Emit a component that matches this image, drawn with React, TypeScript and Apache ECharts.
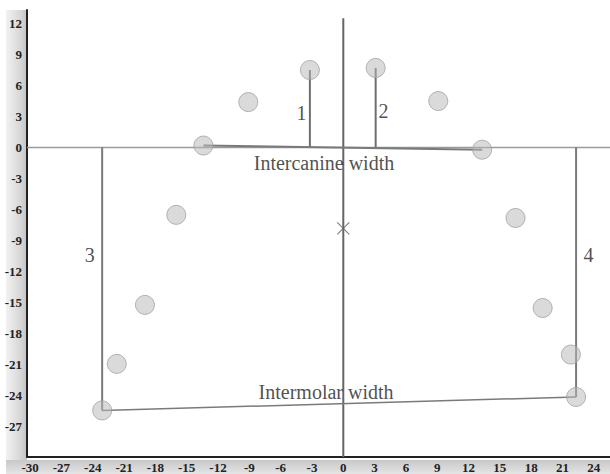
import React, { useEffect, useRef } from "react";
import * as echarts from "echarts";

// Axis ranges and tick labels
const xRange = [-30.3, 25.55];
const yRange = [-29.9, 13.3];
const xTicks = [-30, -27, -24, -21, -18, -15, -12, -9, -6, -3, 0, 3, 6, 9, 12, 15, 18, 21, 24];
const yTicks = [-27, -24, -21, -18, -15, -12, -9, -6, -3, 0, 3, 6, 9, 12];

// Tooth cusp points (x, y)
const teethX = [-23.1, -21.7, -19.0, -16.0, -13.4, -9.1, -3.2, 3.1, 9.1, 13.3, 16.5, 19.1, 21.8, 22.3];
const teethY = [-25.4, -20.9, -15.2, -6.5, 0.2, 4.4, 7.5, 7.7, 4.5, -0.2, -6.8, -15.5, -20.0, -24.1];

// Reference lines
const zeroHorizontal = [[-30.3, 0], [25.55, 0]];
const zeroVertical = [[0, 12.5], [0, -29.9]];

// Measurement segments
const segment1 = [[-3.2, 0], [-3.2, 7.5]];
const segment2 = [[3.1, 0], [3.1, 7.7]];
const segment3 = [[-23.1, 0], [-23.1, -25.4]];
const segment4 = [[22.3, 0], [22.3, -24.1]];
const intercanine = [[-13.4, 0.2], [13.3, -0.2]];
const intermolar = [[-23.1, -25.4], [22.3, -24.1]];

// Centre cross
const centrePoint = [[0, -7.8]];

// Text labels [text, x, y]
const textLabels: [string, number, number][] = [
  ["1", -4.0, 3.35],
  ["2", 3.85, 3.5],
  ["3", -24.3, -10.4],
  ["4", 23.5, -10.4],
  ["Intercanine width", -1.85, -1.45],
  ["Intermolar width", -1.65, -23.65],
];

export default function App() {
  const ref = useRef<HTMLDivElement>(null);
  useEffect(() => {
    if (!ref.current) return;
    const chart = echarts.init(ref.current, null, { renderer: "svg" });
    const seg = (data: number[][], color: string, width: number, z = 2) => ({
      type: "line",
      data,
      symbol: "none",
      silent: true,
      z,
      lineStyle: { color, width },
    });
    const tickLabel = (values: number[], margin: number) => ({
      customValues: values,
      margin,
      fontFamily: "Liberation Serif",
      fontWeight: "bold",
      fontSize: 13,
      color: "#222",
    });
    chart.setOption({
      animation: false,
      backgroundColor: "#ffffff",
      grid: { left: 27, right: 0, top: 10, bottom: 14 },
      graphic: [
        {
          type: "rect",
          z: -10,
          shape: { x: 6, y: 10, width: 21, height: 464 },
          style: {
            fill: new echarts.graphic.LinearGradient(0, 0, 1, 0, [
              { offset: 0, color: "#f2f2f2" },
              { offset: 0.7, color: "#d6d6d6" },
              { offset: 1, color: "#c4c4c4" },
            ]),
          },
        },
        {
          type: "rect",
          z: -10,
          shape: { x: 6, y: 460, width: 604, height: 14 },
          style: {
            fill: new echarts.graphic.LinearGradient(0, 0, 0, 1, [
              { offset: 0, color: "#c8c8c8" },
              { offset: 1, color: "#e4e4e4" },
            ]),
          },
        },
      ],
      xAxis: {
        type: "value",
        min: xRange[0],
        max: xRange[1],
        axisLine: { onZero: false, lineStyle: { color: "#222", width: 2 } },
        axisTick: { show: false },
        splitLine: { show: false },
        axisLabel: tickLabel(xTicks, 4),
      },
      yAxis: {
        type: "value",
        min: yRange[0],
        max: yRange[1],
        axisLine: { onZero: false, lineStyle: { color: "#222", width: 2 } },
        axisTick: { show: false },
        splitLine: { show: false },
        axisLabel: tickLabel(yTicks, 5),
      },
      series: [
        seg(zeroHorizontal, "#9a9a9a", 1.5, 1),
        seg(zeroVertical, "#666666", 2, 1),
        seg(segment1, "#6e6e6e", 2),
        seg(segment2, "#6e6e6e", 2),
        seg(segment3, "#7a7a7a", 2),
        seg(segment4, "#7a7a7a", 2),
        seg(intercanine, "#7a7a7a", 2),
        seg(intermolar, "#7a7a7a", 1.5),
        {
          type: "scatter",
          data: teethX.map((x, i) => [x, teethY[i]]),
          symbol: "circle",
          symbolSize: 19,
          z: 3,
          silent: true,
          itemStyle: { color: "rgba(185,185,185,0.65)", borderColor: "#a2a2a2", borderWidth: 1 },
        },
        {
          type: "scatter",
          data: centrePoint,
          symbol: "path://M0,0L10,10M10,0L0,10",
          symbolSize: 12,
          z: 4,
          silent: true,
          itemStyle: { color: "none", borderColor: "#666", borderWidth: 1.2 },
        },
        {
          type: "scatter",
          data: textLabels.map(([t, x, y]) => ({ value: [x, y], name: t })),
          symbolSize: 0,
          z: 5,
          silent: true,
          label: {
            show: true,
            position: "inside",
            formatter: (p: any) => p.name,
            fontFamily: "Liberation Serif",
            fontSize: 20,
            color: "#222",
          },
        },
      ],
    });
    return () => chart.dispose();
  }, []);
  return (
    <div
      ref={ref}
      style={{ position: "absolute", left: 0, top: 0, width: 610, height: 474 }}
    />
  );
}
